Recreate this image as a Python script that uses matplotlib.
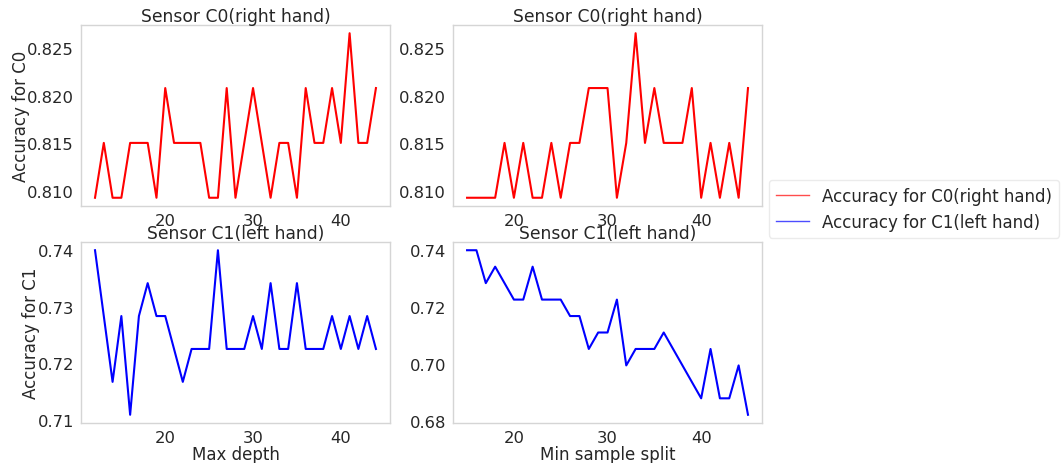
import numpy as np
import matplotlib
matplotlib.use("Agg")
import matplotlib.pyplot as plt
from matplotlib.lines import Line2D

#==================== data (accuracy = correct / 173 test samples)
n_test = 173.0

depth = list(range(12, 45))
c0_depth_hits = [140, 141, 140, 140, 141, 141, 141, 140, 142, 141, 141, 141, 141,
                 140, 140, 142, 140, 141, 142, 141, 140, 141, 141, 140, 142, 141,
                 141, 142, 141, 143, 141, 141, 142]
c1_depth_hits = [128, 126, 124, 126, 123, 126, 127, 126, 126, 125, 124, 125, 125,
                 125, 128, 125, 125, 125, 126, 125, 127, 125, 125, 127, 125, 125,
                 125, 126, 125, 126, 125, 126, 125]

split = list(range(15, 46))
c0_split_hits = [140, 140, 140, 140, 141, 140, 141, 140, 140, 141, 140, 141, 141,
                 142, 142, 142, 140, 141, 143, 141, 142, 141, 141, 141, 142, 140,
                 141, 140, 141, 140, 142]
c1_split_hits = [128, 128, 126, 127, 126, 125, 125, 127, 125, 125, 125, 124, 124,
                 122, 123, 123, 125, 121, 122, 122, 122, 123, 122, 121, 120, 119,
                 122, 119, 119, 121, 118]

title_c0 = "Sensor C0(right hand)"
title_c1 = "Sensor C1(left hand)"
label_c0 = "Accuracy for C0(right hand)"
label_c1 = "Accuracy for C1(left hand)"

#==================== style
txt = "#262626"
plt.rcParams["font.family"] = ["DejaVu Sans"]
plt.rcParams["text.color"] = txt
plt.rcParams["axes.labelcolor"] = txt
plt.rcParams["xtick.color"] = txt
plt.rcParams["ytick.color"] = txt

fig, axs = plt.subplots(2, 2, figsize=(10.64, 4.64), dpi=100)
fig.subplots_adjust(left=0.0761, right=0.7162, top=0.944, bottom=0.0862,
                    wspace=0.204, hspace=0.199)

panels = [
  (axs[0, 0], depth, c0_depth_hits, "red", title_c0),
  (axs[0, 1], split, c0_split_hits, "red", title_c0),
  (axs[1, 0], depth, c1_depth_hits, "blue", title_c1),
  (axs[1, 1], split, c1_split_hits, "blue", title_c1),
]
for ax, x, hits, col, ttl in panels:
  acc = np.array(hits) / n_test
  ax.plot(x, acc, color=col, lw=1.5)
  ax.set_title(ttl, fontsize=12.3, pad=2)
  ax.tick_params(length=0, labelsize=11.8, pad=5)
  ax.set_xticks([20, 30, 40])
  for s in ax.spines.values():
    s.set_color("#d5d5d5")
    s.set_linewidth(1.0)

axs[0, 0].set_yticks([0.810, 0.815, 0.820, 0.825])
axs[0, 1].set_yticks([0.810, 0.815, 0.820, 0.825])
axs[1, 0].set_yticks([0.71, 0.72, 0.73, 0.74])
axs[1, 1].set_yticks([0.68, 0.70, 0.72, 0.74])

axs[0, 0].set_ylabel("Accuracy for C0", fontsize=12, labelpad=-2)
axs[1, 0].set_ylabel("Accuracy for C1", fontsize=12, labelpad=-2)
axs[1, 0].set_xlabel("Max depth", fontsize=12, labelpad=0)
axs[1, 1].set_xlabel("Min sample split", fontsize=12, labelpad=0)

handles = [Line2D([], [], color="red", lw=1.0, alpha=0.7),
           Line2D([], [], color="blue", lw=1.0, alpha=0.7)]
fig.legend(handles, [label_c0, label_c1], loc="upper left",
           bbox_to_anchor=(769 / 1064, 1 - 181 / 464), fontsize=12,
           frameon=True, edgecolor="#e6e6e6", borderaxespad=0)

plt.savefig("out.png", dpi=100)
